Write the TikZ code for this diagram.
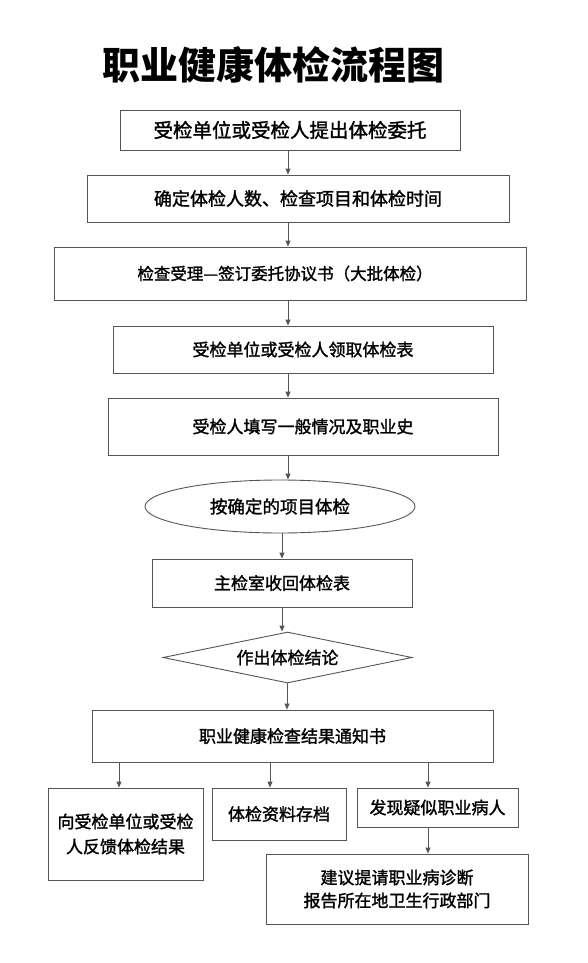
\documentclass[tikz,border=0pt]{standalone}
\usepackage{fontspec}
\newfontfamily\cjk{Noto Sans CJK SC}
\newfontfamily\cjkb[FakeBold=1.5]{Noto Sans CJK SC}
\usetikzlibrary{arrows.meta,shapes.geometric}
\definecolor{linec}{RGB}{85,85,85}
\tikzset{
  box/.style={draw=linec, line width=0.9pt, rectangle, inner sep=0pt, align=center, font=\cjkb\fontsize{17}{25}\selectfont},
  arr/.style={draw=linec, line width=0.9pt, -{Triangle[length=6pt,width=5pt]}},
}
\begin{document}
\begin{tikzpicture}[x=1pt,y=-1pt]
\useasboundingbox (0,0) rectangle (587,963);
\fill[white] (0,0) rectangle (587,963);
\node (title) at (273,65) {\cjk\bfseries\fontsize{38}{40}\selectfont 职业健康体检流程图};
\node[box, minimum width=340pt, minimum height=40pt, font=\cjkb\fontsize{19.5}{22}\selectfont] (b1) at (290,130) {受检单位或受检人提出体检委托};
\node[box, minimum width=422pt, minimum height=47pt, font=\cjkb\fontsize{18}{22}\selectfont] (b2) at (298,198.5) {确定体检人数、检查项目和体检时间};
\node[box, minimum width=472pt, minimum height=53pt, font=\cjkb\fontsize{16.5}{20}\selectfont] (b3) at (290,273.5) {检查受理—签订委托协议书（大批体检）\hspace*{10pt}};
\node[box, minimum width=380pt, minimum height=47pt] (b4) at (303,349.5) {受检单位或受检人领取体检表};
\node[box, minimum width=390pt, minimum height=57pt] (b5) at (303,426.5) {\raisebox{-6pt}{受检人填写一般情况及职业史}};
\node[box, ellipse, minimum width=270pt, minimum height=53pt, font=\cjkb\fontsize{17.5}{20}\selectfont] (ell) at (280,506.5) {按确定的项目体检};
\node[box, minimum width=260pt, minimum height=48pt] (b7) at (282,583) {主检室收回体检表};
\node[box, diamond, aspect=4.9, minimum width=249pt, minimum height=51pt] (dia) at (287.5,657.5) {作出体检结论};
\node[box, minimum width=401pt, minimum height=52pt] (b9) at (292.5,736) {职业健康检查结果通知书};
\node[box, minimum width=155pt, minimum height=92pt] (bA) at (125.5,834) {向受检单位或受检\\人反馈体检结果};
\node[box, minimum width=134pt, minimum height=52pt] (bB) at (279,814) {体检资料存档};
\node[box, minimum width=161pt, minimum height=39pt] (bC) at (437.5,807.5) {发现疑似职业病人};
\node[box, minimum width=262pt, minimum height=70pt, font=\cjkb\fontsize{17}{23}\selectfont] (bD) at (397,889) {建议提请职业病诊断\\报告所在地卫生行政部门};
\coordinate (xa) at (288,0);
\coordinate (xb) at (282,0);
\coordinate (xc) at (287,0);
\coordinate (xA) at (119,0);
\coordinate (xB) at (270,0);
\coordinate (xC) at (428,0);
\draw[arr] (b1.south -| xa) -- (b2.north -| xa);
\draw[arr] (b2.south -| xa) -- (b3.north -| xa);
\draw[arr] (b3.south -| xa) -- (b4.north -| xa);
\draw[arr] (b4.south -| xa) -- (b5.north -| xa);
\draw[arr] (b5.south -| xa) -- (ell.north -| xa);
\draw[arr] (ell.south -| xb) -- (b7.north -| xb);
\draw[arr] (b7.south -| xb) -- (dia.north -| xb);
\draw[arr] (dia.south -| xc) -- (b9.north -| xc);
\draw[arr] (b9.south -| xA) -- (bA.north -| xA);
\draw[arr] (b9.south -| xB) -- (bB.north -| xB);
\draw[arr] (b9.south -| xC) -- (bC.north -| xC);
\draw[arr] (bC.south -| xC) -- (bD.north -| xC);
\end{tikzpicture}
\end{document}
